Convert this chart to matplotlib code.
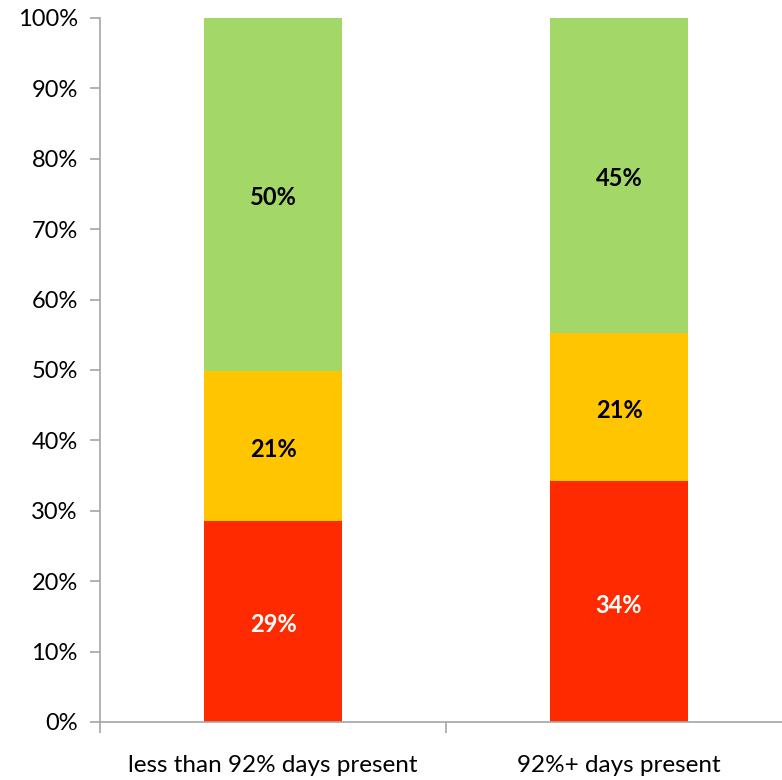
import matplotlib.pyplot as plt
from matplotlib.ticker import FixedLocator, PercentFormatter

categories = ['less than 92% days present', '92%+ days present']
red_vals = [28.6, 34.2]
orange_vals = [21.3, 21.1]
green_vals = [50.1, 44.7]

COLORS = ['#FF2A00', '#FFC600', '#A3D869']
TEXT_COLORS = ['white', 'black', 'black']

plt.rcParams['font.family'] = ['Lato', 'DejaVu Sans']

fig = plt.figure(figsize=(7.82, 7.80), dpi=100)
ax = fig.add_axes([0.1279, 0.0744, 0.8849, 0.9026])

x = list(range(len(categories)))
bottoms = [0] * len(categories)
for vals, color, tcolor in zip([red_vals, orange_vals, green_vals], COLORS, TEXT_COLORS):
    bars = ax.bar(x, vals, width=0.4, bottom=bottoms, color=color)
    for xi, v, b in zip(x, vals, bottoms):
        ax.text(xi, b + v / 2 - 0.5, f'{v:.0f}%', ha='center', va='center',
                fontsize=17, fontweight='bold', color=tcolor)
    bottoms = [b + v for b, v in zip(bottoms, vals)]

ax.set_xlim(-0.5, 1.5)
ax.set_ylim(0, 100)
ax.set_yticks(range(0, 101, 10))
ax.yaxis.set_major_formatter(PercentFormatter(decimals=0))
ax.set_xticks(x)
ax.set_xticklabels(categories)
ax.xaxis.set_minor_locator(FixedLocator([-0.5, 0.5, 1.5]))

for side in ['top', 'right']:
    ax.spines[side].set_visible(False)
for side in ['left', 'bottom']:
    ax.spines[side].set_color('#A6A6A6')
    ax.spines[side].set_linewidth(1.2)

ax.tick_params(axis='y', direction='out', length=7, width=1.2, color='#A6A6A6',
               labelsize=17, pad=9)
ax.tick_params(axis='x', which='major', length=0, labelsize=17.5, pad=24)
ax.tick_params(axis='x', which='minor', direction='out', length=8, width=1.2, color='#A6A6A6')

fig.savefig('out.png', dpi=100)
